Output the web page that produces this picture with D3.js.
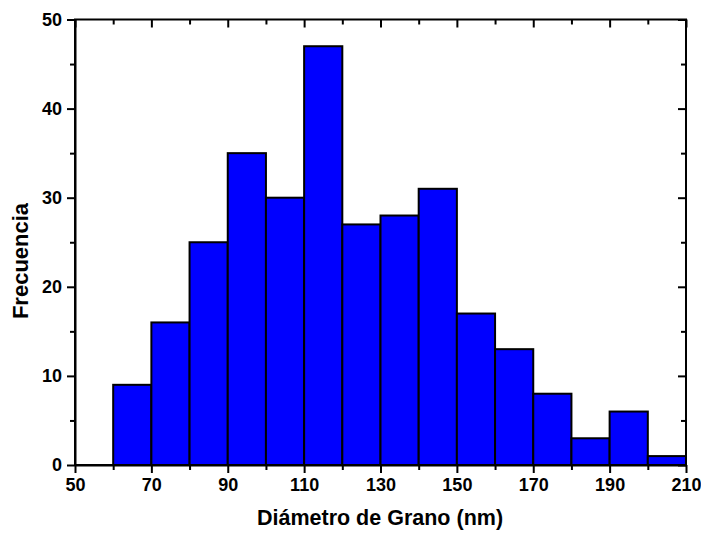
<!DOCTYPE html>
<html><head><meta charset="utf-8">
<script src="https://cdn.jsdelivr.net/npm/d3@7"></script>
<style>html,body{margin:0;padding:0;background:#fff;}svg{display:block;}</style>
</head><body>
<script>
const binStarts = [60,70,80,90,100,110,120,130,140,150,160,170,180,190,200];
const binWidth = 10;
const counts = [9,16,25,35,30,47,27,28,31,17,13,8,3,6,1];
const xTickLabels = [50,70,90,110,130,150,170,190,210];
const yTickLabels = [0,10,20,30,40,50];
const xLabel = "Diámetro de Grano (nm)";
const yLabel = "Frecuencia";

const W = 701, H = 533;
const m = {left:75, right:15, top:19.5, bottom:68};
const svg = d3.select("body").append("svg").attr("width",W).attr("height",H);
const x = d3.scaleLinear().domain([50,210]).range([m.left, W-m.right]);
const y = d3.scaleLinear().domain([0,50]).range([H-m.bottom, m.top]);
const font = "'Liberation Sans', Arial, sans-serif";

// bars
svg.append("g").selectAll("rect").data(binStarts).join("rect")
  .attr("x", (d)=>x(d)).attr("width", (d)=>x(d+binWidth)-x(d))
  .attr("y", (d,i)=>y(counts[i])).attr("height", (d,i)=>y(0)-y(counts[i]))
  .attr("fill","#0000ff").attr("stroke","#000").attr("stroke-width",2);

const xMinor = d3.range(60,210,20);
const yMinor = d3.range(5,50,10);

function styleAxis(g){
  g.selectAll("path.domain").attr("stroke","#000").attr("stroke-width",2);
  g.selectAll(".tick line").attr("stroke","#000").attr("stroke-width",2);
  g.selectAll("text").attr("font-family",font).attr("font-weight","bold").attr("font-size","18px").attr("fill","#000");
}
function addAxis(axis, tx, ty, keepDomain){
  const g = svg.append("g").attr("transform",`translate(${tx},${ty})`).call(axis);
  styleAxis(g);
  if(!keepDomain) g.select("path.domain").remove();
  return g;
}
// bottom (outward)
addAxis(d3.axisBottom(x).tickValues(xTickLabels).tickSize(8).tickPadding(5).tickSizeOuter(0).tickFormat(d3.format("d")), 0, y(0), true);
addAxis(d3.axisBottom(x).tickValues(xMinor).tickSize(5).tickFormat(""), 0, y(0), false);
// top (inward)
addAxis(d3.axisBottom(x).tickValues(xTickLabels).tickSize(8).tickFormat(""), 0, y(50), false);
addAxis(d3.axisBottom(x).tickValues(xMinor).tickSize(5).tickFormat(""), 0, y(50), false);
// left (outward)
addAxis(d3.axisLeft(y).tickValues(yTickLabels).tickSize(8).tickPadding(5).tickSizeOuter(0), x(50), 0, true);
addAxis(d3.axisLeft(y).tickValues(yMinor).tickSize(5).tickFormat(""), x(50), 0, false);
// right (inward)
addAxis(d3.axisLeft(y).tickValues(yTickLabels).tickSize(8).tickFormat(""), x(210), 0, false);
addAxis(d3.axisLeft(y).tickValues(yMinor).tickSize(5).tickFormat(""), x(210), 0, false);

// frame
svg.append("rect").attr("x",x(50)).attr("y",y(50)).attr("width",x(210)-x(50)).attr("height",y(0)-y(50))
  .attr("fill","none").attr("stroke","#000").attr("stroke-width",2);

svg.append("text").attr("x",380).attr("y",525)
  .attr("text-anchor","middle").attr("font-family",font).attr("font-weight","bold").attr("font-size","21.5px").text(xLabel);
svg.append("text").attr("transform","translate(28,261) rotate(-90)")
  .attr("text-anchor","middle").attr("font-family",font).attr("font-weight","bold").attr("font-size","22px").text(yLabel);
</script>
</body></html>
